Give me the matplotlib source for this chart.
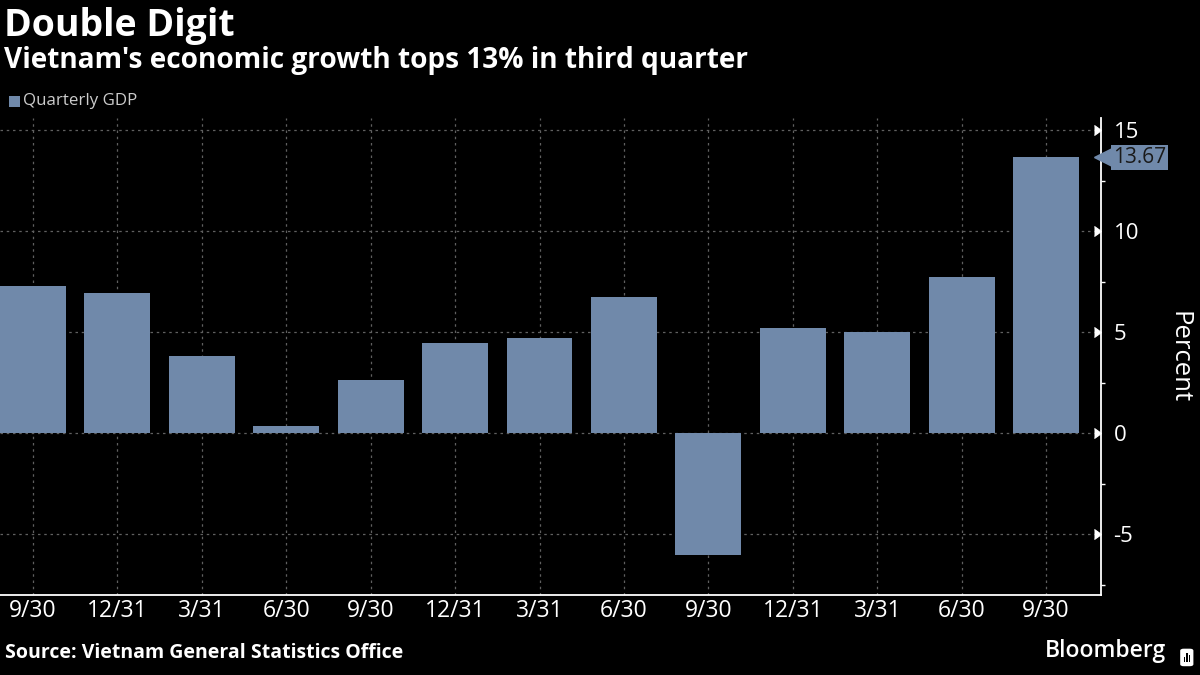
import matplotlib
matplotlib.use("Agg")
import matplotlib.pyplot as plt
import matplotlib.transforms as mtransforms
from matplotlib.patches import FancyBboxPatch, Rectangle

labels = ["9/30", "12/31", "3/31", "6/30", "9/30", "12/31", "3/31", "6/30",
          "9/30", "12/31", "3/31", "6/30", "9/30"]
gdp = [7.31, 6.97, 3.82, 0.36, 2.62, 4.48, 4.72, 6.73, -6.02, 5.22, 5.03, 7.72, 13.67]
yticks = [-5, 0, 5, 10, 15]

BAR = "#7089aa"
plt.rcParams["font.family"] = ["Open Sans", "DejaVu Sans"]

fig = plt.figure(figsize=(12, 6.75), dpi=100, facecolor="black")
ax = fig.add_axes([0.0, 0.1185, 0.9175, 0.7065], facecolor="black")

x = list(range(len(gdp)))
ax.bar(x, gdp, width=0.78, color=BAR, zorder=2)
ax.set_xlim(-0.39, 12.65)
ax.set_ylim(-8.0, 15.6)

ax.yaxis.tick_right()
ax.set_yticks(yticks)
ax.set_yticklabels([str(v) for v in yticks])
ax.set_yticks([-7.5, -2.5, 2.5, 7.5, 12.5], minor=True)
ax.tick_params(axis="y", which="major", colors="white", labelsize=16, length=0, pad=9)
ax.tick_params(axis="y", which="minor", colors="white", length=3, width=1)
for t in ax.yaxis.get_major_ticks():
    t.tick2line.set_marker(5)
    t.tick2line.set_markersize(7)
    t.tick2line.set_color("white")

ax.set_xticks(x)
ax.set_xticklabels(labels)
ax.tick_params(axis="x", colors="white", labelsize=16.5, length=0, pad=3)

ax.grid(True, color="#606060", linestyle=(0, (2, 3)), linewidth=0.9, zorder=0)

for s in ["top", "left"]:
    ax.spines[s].set_visible(False)
ax.spines["right"].set_color("white")
ax.spines["bottom"].set_color("white")
ax.spines["right"].set_linewidth(1.3)
ax.spines["bottom"].set_linewidth(1.3)

ax.yaxis.set_label_position("right")
ax.set_ylabel("Percent", color="white", fontsize=18.5, rotation=-90, labelpad=38)

# last value label
trans = mtransforms.blended_transform_factory(ax.transAxes, ax.transData)
last = gdp[-1]
ax.plot([1.0045], [last], marker="<", markersize=17, color=BAR, transform=trans,
        clip_on=False, zorder=5)
ax.text(1.011, last, f"{last:.2f}", transform=trans, ha="left", va="center",
        fontsize=15, color="#1a1a1a",
        bbox=dict(boxstyle="square,pad=0.1", facecolor=BAR, edgecolor="none"),
        zorder=6)

fig.text(0.003, 0.962, "Double Digit", color="white", fontsize=27, fontweight="bold",
         va="center", ha="left")
fig.text(0.003, 0.910, "Vietnam's economic growth tops 13% in third quarter", color="white",
         fontsize=20.2, fontweight="bold", va="center", ha="left")
fig.patches.append(Rectangle((0.0075, 0.841), 0.0095, 0.017, transform=fig.transFigure,
                             facecolor=BAR, edgecolor="none"))
fig.text(0.0195, 0.850, "Quarterly GDP", color="#cccccc", fontsize=12.2, va="center", ha="left")

fig.text(0.004, 0.018, "Source: Vietnam General Statistics Office", color="white",
         fontsize=14, fontweight="bold", va="bottom", ha="left")
fig.text(0.972, 0.018, "Bloomberg", color="white", fontsize=16.5, fontweight="semibold",
         va="bottom", ha="right")
# small logo mark
fig.patches.append(FancyBboxPatch((0.9835, 0.013), 0.011, 0.026,
                                  boxstyle="round,pad=0,rounding_size=0.003",
                                  transform=fig.transFigure, facecolor="white",
                                  edgecolor="none"))
for bx, bh in [(0.9865, 0.008), (0.9885, 0.014), (0.9905, 0.010)]:
    fig.patches.append(Rectangle((bx, 0.019), 0.0012, bh, transform=fig.transFigure,
                                 facecolor="black", edgecolor="none"))

fig.savefig("out.png", dpi=100, facecolor="black")
